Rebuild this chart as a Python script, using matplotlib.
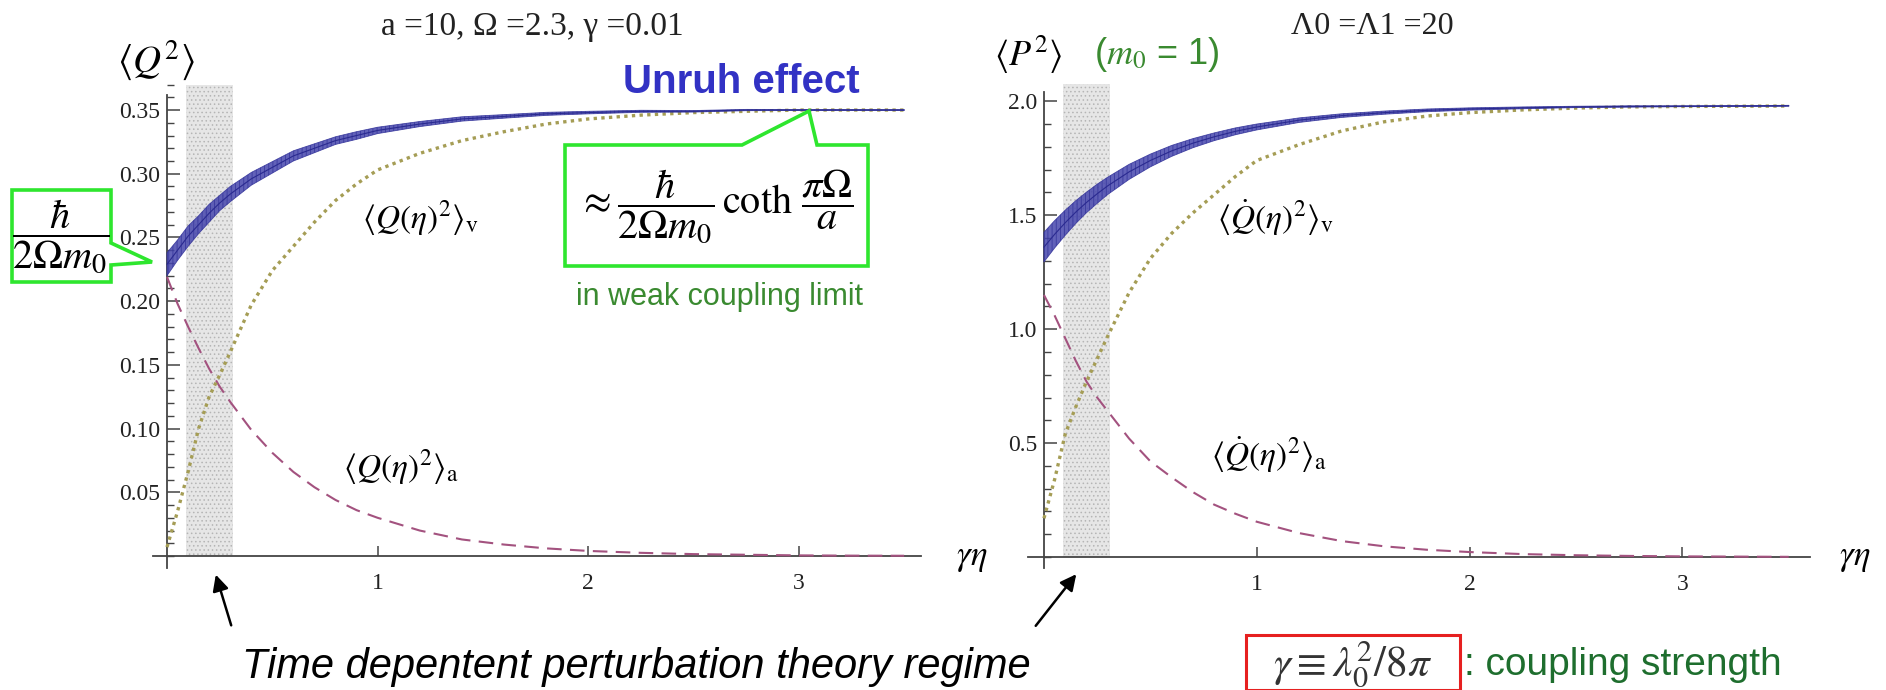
import matplotlib

matplotlib.use("Agg")
import matplotlib.pyplot as plt  # noqa: E402
from matplotlib.patches import Polygon, Rectangle, FancyArrowPatch  # noqa: E402
from matplotlib.ticker import MultipleLocator, FixedLocator, FixedFormatter  # noqa: E402

plt.rcParams["mathtext.fontset"] = "stix"
plt.rcParams["font.family"] = ["Liberation Serif", "DejaVu Serif"]
plt.rcParams["hatch.linewidth"] = 0.6

# ---- data ----
# gamma*eta sample points
g_eta = [0, 0.05, 0.1, 0.15, 0.2, 0.25, 0.3, 0.4, 0.5, 0.6, 0.7, 0.8, 0.9, 1.0,
         1.2, 1.4, 1.6, 1.8, 2.0, 2.25, 2.5, 2.75, 3.0, 3.25, 3.5]

# left panel: <Q^2>
q2_total = [0.229, 0.240, 0.251, 0.260, 0.269, 0.277, 0.284, 0.296, 0.305, 0.314, 0.320,
            0.326, 0.330, 0.334, 0.339, 0.343, 0.345, 0.347, 0.348, 0.349, 0.349,
            0.350, 0.350, 0.350, 0.350]
q2_total_spread = [0.009, 0.008, 0.008, 0.007, 0.007, 0.006, 0.006, 0.005, 0.0045, 0.004,
                   0.0035, 0.003, 0.003, 0.0025, 0.002, 0.0017, 0.0014, 0.0012, 0.001,
                   0.0008, 0.0006, 0.0005, 0.0004, 0.0004, 0.0003]
q2_vac = [0.007, 0.035, 0.066, 0.100, 0.125, 0.142, 0.160, 0.197, 0.224, 0.243, 0.262,
          0.279, 0.292, 0.303, 0.316, 0.326, 0.333, 0.339, 0.343, 0.346, 0.348,
          0.349, 0.350, 0.350, 0.350]
q2_acc = [0.219, 0.198, 0.180, 0.163, 0.147, 0.133, 0.121, 0.099, 0.081, 0.066, 0.054,
          0.044, 0.036, 0.030, 0.020, 0.013, 0.009, 0.006, 0.004, 0.0025, 0.0015,
          0.001, 0.0005, 0.0003, 0.0002]

# right panel: <P^2>
p2_total = [1.36, 1.416, 1.467, 1.514, 1.556, 1.594, 1.629, 1.690, 1.740, 1.782, 1.816,
            1.844, 1.868, 1.887, 1.917, 1.937, 1.950, 1.960, 1.966, 1.971, 1.975,
            1.977, 1.978, 1.979, 1.980]
p2_total_spread = [0.065, 0.06, 0.055, 0.05, 0.045, 0.042, 0.038, 0.033, 0.028, 0.024,
                   0.02, 0.017, 0.015, 0.013, 0.01, 0.008, 0.007, 0.006, 0.005, 0.004,
                   0.003, 0.003, 0.002, 0.002, 0.002]
p2_vac = [0.17, 0.34, 0.54, 0.66, 0.77, 0.87, 0.97, 1.16, 1.31, 1.42, 1.51, 1.59, 1.67,
          1.74, 1.81, 1.87, 1.91, 1.935, 1.95, 1.962, 1.97, 1.975, 1.977, 1.978, 1.979]
p2_acc = [1.15, 1.06, 0.96, 0.86, 0.77, 0.70, 0.64, 0.52, 0.42, 0.35, 0.285, 0.23, 0.19,
          0.155, 0.105, 0.07, 0.047, 0.032, 0.022, 0.013, 0.008, 0.005, 0.003, 0.002, 0.001]

# shaded "time dependent perturbation theory" window
regime_q = [0.09, 0.313]
regime_p = [0.09, 0.31]

q_ticks = [0.05, 0.10, 0.15, 0.20, 0.25, 0.30, 0.35]
q_ticklabels = ["0.05", "0.10", "0.15", "0.20", "0.25", "0.30", "0.35"]
p_ticks = [0.5, 1.0, 1.5, 2.0]
p_ticklabels = ["0.5", "1.0", "1.5", "2.0"]
x_ticks = [1, 2, 3]
x_ticklabels = ["1", "2", "3"]

W, H = 1886, 690
BLUE = "#4646ad"
OLIVE = "#a59d55"
MAUVE = "#a3527f"
AXC = "#444444"
LIME = "#2ee62e"
DGREEN = "#3a8a30"
SANS = ["Liberation Sans", "DejaVu Sans"]


def px(x, y):
    """pixel position (from top-left) -> figure fraction"""
    return (x / W, 1 - y / H)


def style_axes(ax, xlim, ylim, spine_top, yticks, ylabels, yminor):
    ax.set_xlim(*xlim)
    ax.set_ylim(*ylim)
    ax.patch.set_visible(False)
    for s in ("top", "right"):
        ax.spines[s].set_visible(False)
    ax.spines["left"].set_position(("data", 0))
    ax.spines["bottom"].set_position(("data", 0))
    ax.spines["left"].set_bounds(ylim[0], spine_top)
    for s in ("left", "bottom"):
        ax.spines[s].set_color(AXC)
        ax.spines[s].set_linewidth(1.3)
    ax.yaxis.set_major_locator(FixedLocator(yticks))
    ax.yaxis.set_major_formatter(FixedFormatter(ylabels))
    ax.yaxis.set_minor_locator(MultipleLocator(yminor))
    ax.xaxis.set_major_locator(FixedLocator(x_ticks))
    ax.xaxis.set_major_formatter(FixedFormatter(x_ticklabels))
    ax.tick_params(axis="y", which="major", direction="in", length=9, width=1.1,
                   color=AXC, labelsize=17, pad=5, labelcolor="#222222")
    ax.tick_params(axis="y", which="minor", direction="in", length=5, width=1.0, color=AXC)
    ax.tick_params(axis="x", which="major", direction="in", length=7, width=1.1,
                   color=AXC, labelsize=17, pad=12, labelcolor="#222222")


def draw_curves(ax, total, spread, vac, acc, regime, band_top):
    lo = [c - s for c, s in zip(total, spread)]
    hi = [c + s for c, s in zip(total, spread)]
    ax.fill_between(regime, [0, 0], [band_top, band_top], facecolor="#e6e6e6",
                    edgecolor="#b5b5b5", hatch="....", linewidth=0, zorder=1, clip_on=False)
    ax.plot(g_eta, acc, color=MAUVE, lw=1.5, ls=(0, (7, 4)), zorder=3)
    ax.plot(g_eta, vac, color=OLIVE, lw=2.4, ls=(0, (1, 1.3)), zorder=3)
    ax.fill_between(g_eta, lo, hi, facecolor=BLUE, edgecolor="#33339a", hatch="||||",
                    linewidth=0.6, alpha=0.85, zorder=4)
    ax.plot(g_eta, total, color="#2a2a90", lw=0.8, zorder=4)


fig = plt.figure(figsize=(W / 100, H / 100), dpi=100)

# left panel  <Q^2>
axq = fig.add_axes([153 / W, 1 - 568 / H, (921 - 153) / W, (568 - 82) / H])
style_axes(axq, (-0.0665, 3.58), (-0.0094, 0.372), 0.362, q_ticks, q_ticklabels, 0.01)
draw_curves(axq, q2_total, q2_total_spread, q2_vac, q2_acc, regime_q, 0.37)

# right panel  <P^2>
axp = fig.add_axes([1028 / W, 1 - 568 / H, (1810 - 1028) / W, (568 - 83) / H])
style_axes(axp, (-0.075, 3.6), (-0.048, 2.08), 2.04, p_ticks, p_ticklabels, 0.1)
draw_curves(axp, p2_total, p2_total_spread, p2_vac, p2_acc, regime_p, 2.075)


def ftext(x, y, s, **kw):
    kw.setdefault("ha", "center")
    kw.setdefault("va", "center")
    return fig.text(*px(x, y), s, **kw)


# titles and axis labels
ftext(532, 27, "a =10, Ω =2.3, γ =0.01", fontsize=24, color="#222222")
ftext(1372, 27, "Λ0 =Λ1 =20", fontsize=23, color="#222222")
ftext(156, 60, r"$\langle Q^2\rangle$", fontsize=28)
ftext(1028, 55, r"$\langle P^2\rangle$", fontsize=26)
ftext(1157, 55, r"($m_0$ = 1)", fontsize=26, color=DGREEN, family=SANS)
ftext(972, 557, r"$\gamma\eta$", fontsize=25)
ftext(1855, 557, r"$\gamma\eta$", fontsize=25)

# curve labels
ftext(362, 218, r"$\langle Q(\eta)^2\rangle_{\rm v}$", fontsize=24, ha="left")
ftext(343, 467, r"$\langle Q(\eta)^2\rangle_{\rm a}$", fontsize=24, ha="left")
ftext(1217, 218, r"$\langle \dot{Q}(\eta)^2\rangle_{\rm v}$", fontsize=24, ha="left")
ftext(1211, 455, r"$\langle \dot{Q}(\eta)^2\rangle_{\rm a}$", fontsize=24, ha="left")

# Unruh effect callout
ftext(741, 82, "Unruh effect", fontsize=29, color="#3232c4", fontweight="bold", family=SANS)
callout_r = [(565, 145), (742, 145), (809, 111), (817, 145), (868, 145), (868, 266), (565, 266)]
fig.add_artist(Polygon([px(*p) for p in callout_r], closed=True, transform=fig.transFigure,
                       facecolor="white", edgecolor=LIME, lw=2.6, zorder=5))
ftext(716, 207, r"$\approx\dfrac{\hbar}{2\Omega m_0}\,\coth\,\dfrac{\pi\Omega}{a}$",
      fontsize=29, zorder=6)
ftext(720, 297, "in weak coupling limit", fontsize=22, color=DGREEN, family=SANS)

callout_l = [(12, 190), (111, 190), (111, 243), (152, 262), (111, 265), (111, 282), (12, 282)]
fig.add_artist(Polygon([px(*p) for p in callout_l], closed=True, transform=fig.transFigure,
                       facecolor="none", edgecolor=LIME, lw=2.6, zorder=5))
ftext(61, 237, r"$\dfrac{\hbar}{2\Omega m_0}$", fontsize=29, zorder=6)

# arrows to the shaded window
for tail, head in (((232, 628), (215, 572)), ((1034, 628), (1078, 572))):
    fig.add_artist(FancyArrowPatch(px(*tail), px(*head), transform=fig.transFigure,
                                   arrowstyle="-|>", mutation_scale=24, lw=1.8, color="black"))
ftext(242, 667, "Time depentent perturbation theory regime", fontsize=30, style="italic",
      ha="left", family=SANS)

# coupling strength box
x0, y0 = px(1246, 690)
x1, y1 = px(1460, 635)
fig.add_artist(Rectangle((x0, y0), x1 - x0, y1 - y0, transform=fig.transFigure,
                         facecolor="none", edgecolor="#e62020", lw=2.2, clip_on=False))
ftext(1353, 664, r"$\gamma\equiv\lambda_0^2/8\pi$", fontsize=31, color="#333333")
ftext(1464, 665, ": coupling strength", fontsize=28, color="#1e6e2e", ha="left", family=SANS)

fig.savefig("out.png", dpi=100)
plt.close(fig)
